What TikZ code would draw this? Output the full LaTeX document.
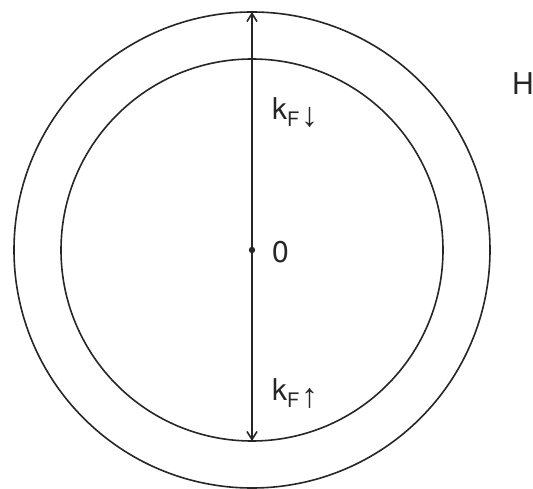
\documentclass[tikz,border=0pt]{standalone}
\usepackage{fontspec}
\setmainfont{TeX Gyre Heros}
\newfontfamily\arrowfont{Liberation Sans}
\usetikzlibrary{arrows.meta}
\tikzset{
  ring/.style={circle, draw=black!85, line width=1.6pt, inner sep=0pt, outer sep=0pt},
  lbl/.style={inner sep=0pt, outer sep=0pt, anchor=base west, font=\fontsize{30}{36}\selectfont, text=black!85},
  axis/.style={draw=black!85, line width=1.6pt, {Straight Barb[length=8pt,width=10pt]}-{Straight Barb[length=8pt,width=10pt]}}
}
\newcommand{\kfsub}[1]{k\raisebox{-7pt}{\fontsize{20}{24}\selectfont F\hspace{2pt}{\arrowfont\fontsize{34}{36}\selectfont #1}}}
\begin{document}
\begin{tikzpicture}[x=1pt,y=-1pt]
\useasboundingbox (0,0) rectangle (533,489);
\fill[white] (0,0) rectangle (533,489);
\coordinate (c) at (252,250);
\node[ring, minimum size=476pt] (outer) at (c) {};
\node[ring, minimum size=382pt] (inner) at (c) {};
\draw[axis] (inner.south) -- (outer.north);
\fill[black!85] (c) circle (3.2pt);
\node[lbl] (kdown) at (272,120) {\kfsub{↓}};
\node[lbl] (zero) at (272,262) {0};
\node[lbl] (kup) at (272,400) {\kfsub{↑}};
\node[lbl] (H) at (512,95) {H};
\end{tikzpicture}
\end{document}
